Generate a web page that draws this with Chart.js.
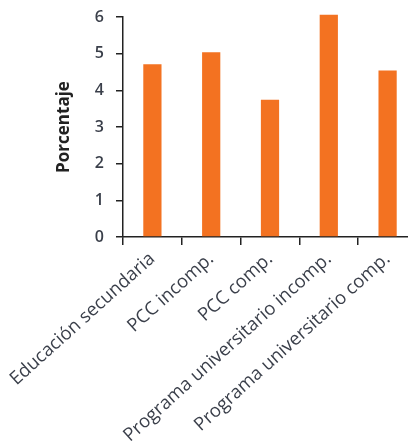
<!DOCTYPE html>
<html><head><meta charset="utf-8">
<script src="https://cdn.jsdelivr.net/npm/chart.js@4/dist/chart.umd.min.js"></script>
<style>html,body{margin:0;padding:0;overflow:hidden;background:#fff}#wrap{width:417px;height:446px}</style>
</head><body><div id="wrap"><canvas id="c"></canvas></div>
<script>
const categories = ["Educación secundaria","PCC incomp.","PCC comp.","Programa universitario incomp.","Programa universitario comp."];
const values = [4.71, 5.04, 3.74, 6.06, 4.54];
const yTicks = [0,1,2,3,4,5,6];
const textColor = "#3a3f4a";
new Chart(document.getElementById('c'), {
  type: 'bar',
  data: { labels: categories, datasets: [{ data: values, backgroundColor: '#F37221', barPercentage: 0.31, categoryPercentage: 1, clip: false }] },
  options: {
    responsive: true, maintainAspectRatio: false, animation: false,
    layout: { padding: { left: 54, right: 0, top: 17, bottom: 0 } },
    plugins: { legend: { display: false }, tooltip: { enabled: false } },
    scales: {
      x: {
        offset: true,
        grid: { offset: true, drawOnChartArea: false, drawTicks: true, tickLength: 8, color: '#222', lineWidth: 1.5 },
        border: { color: '#222', width: 1.5 },
        ticks: { color: textColor, font: { family: 'Open Sans', size: 18.5 }, minRotation: 42, maxRotation: 42, padding: 3, autoSkip: false },
        afterFit: s => { s.height = 446 - 237; s.paddingLeft = 0; s.paddingRight = 0; }
      },
      y: {
        min: 0, max: 6,
        afterBuildTicks: s => { s.ticks = yTicks.map(v => ({ value: v })); },
        grid: { drawOnChartArea: false, drawTicks: true, tickLength: 7, color: '#222', lineWidth: 1.5 },
        border: { color: '#222', width: 1.5 },
        ticks: { color: textColor, font: { family: 'Open Sans', size: 16, weight: '600' }, padding: 12 },
        title: { display: true, text: 'Porcentaje', color: '#222', font: { family: 'Open Sans', size: 17, weight: 'bold' }, padding: { top: 0, bottom: 0 } },
        afterFit: s => { s.width = 123 - 54; s.paddingTop = 0; s.paddingBottom = 0; }
      }
    }
  }
});
</script></body></html>
